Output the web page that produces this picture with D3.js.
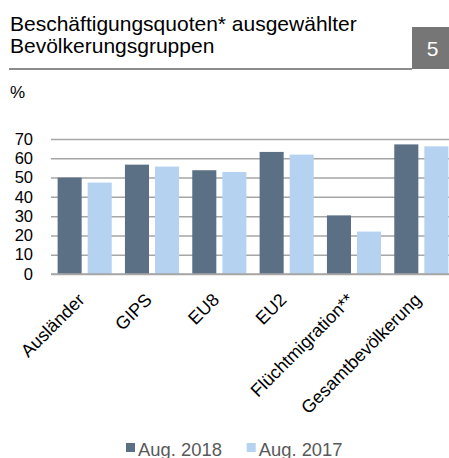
<!DOCTYPE html>
<head>
    <meta charset="utf-8">
    <title>Beschäftigungsquoten</title>
    <style>
        body { margin: 0; background: #fff; }
        text { font-family: Arial, "Liberation Sans", sans-serif; }
    </style>
</head>

<script src="https://d3js.org/d3.v7.min.js"></script>

<div id="my_dataviz"></div>

<script>

    // data
    var groups = ["Ausländer", "GIPS", "EU8", "EU2", "Flüchtmigration**", "Gesamtbevölkerung"];
    var series = ["Aug. 2018", "Aug. 2017"];
    var aug2018 = [50.0, 56.7, 53.8, 63.3, 30.4, 67.2];
    var aug2017 = [47.4, 55.7, 52.9, 61.9, 22.0, 66.2];
    var yTicks = [0, 10, 20, 30, 40, 50, 60, 70];

    var colors = ["#5b6f85", "#b5d2f0"];

    var W = 449, H = 458;
    var margin = {top: 139, left: 51},
        plotBottom = 274,
        plotRight = 455;

    var svg = d3.select("#my_dataviz")
      .append("svg")
      .attr("width", W)
      .attr("height", H);

    // title block
    svg.append("text")
        .attr("x", 10).attr("y", 31)
        .style("font-size", "21px")
        .text("Beschäftigungsquoten* ausgewählter");
    svg.append("text")
        .attr("x", 10).attr("y", 53)
        .style("font-size", "21px")
        .text("Bevölkerungsgruppen");

    svg.append("line")
        .attr("x1", 9).attr("x2", 412)
        .attr("y1", 69).attr("y2", 69)
        .attr("stroke", "#8c8c8c")
        .attr("stroke-width", 2);

    svg.append("rect")
        .attr("x", 412).attr("y", 27)
        .attr("width", 37).attr("height", 42)
        .style("fill", "#767676");
    svg.append("text")
        .attr("x", 432.5).attr("y", 56)
        .attr("text-anchor", "middle")
        .style("font-size", "21px")
        .style("fill", "#fff")
        .text("5");

    svg.append("text")
        .attr("x", 10).attr("y", 98)
        .style("font-size", "17px")
        .text("%");

    // scales
    var x0 = d3.scaleBand()
      .domain(groups)
      .range([margin.left, plotRight])
      .padding(0);

    var x1 = d3.scaleBand()
      .domain(series)
      .range([0, x0.bandwidth()])
      .paddingInner(0.2)
      .paddingOuter(0.22);

    var y = d3.scaleLinear()
      .domain([0, 70])
      .range([plotBottom, margin.top]);

    // y axis with gridlines
    var yAxis = svg.append("g")
      .attr("transform", "translate(" + margin.left + ",0)")
      .call(d3.axisLeft(y).tickValues(yTicks).tickSize(-(plotRight - margin.left)).tickPadding(18));
    yAxis.select(".domain").remove();
    yAxis.selectAll(".tick line")
      .attr("stroke", "#a6a6a6")
      .attr("stroke-width", 1.5);
    yAxis.selectAll(".tick text")
      .style("font-size", "16.5px")
      .style("font-family", "Arial, 'Liberation Sans', sans-serif")
      .attr("fill", "#000");

    // bars
    var rows = groups.map(function (g, i) {
      return {group: g, values: [aug2018[i], aug2017[i]]};
    });

    svg.append("g")
      .selectAll("g")
      .data(rows)
      .enter()
      .append("g")
        .attr("transform", function (d) { return "translate(" + x0(d.group) + ",0)"; })
      .selectAll("rect")
      .data(function (d) { return d.values.map(function (v, j) { return {key: series[j], value: v, j: j}; }); })
      .enter()
      .append("rect")
        .attr("x", function (d) { return x1(d.key); })
        .attr("y", function (d) { return y(d.value); })
        .attr("width", x1.bandwidth())
        .attr("height", function (d) { return y(0) - y(d.value); })
        .style("fill", function (d) { return colors[d.j]; });

    // zero line on top
    svg.append("line")
      .attr("x1", margin.left).attr("x2", plotRight)
      .attr("y1", y(0)).attr("y2", y(0))
      .attr("stroke", "#a6a6a6")
      .attr("stroke-width", 1.5);

    // rotated category labels
    svg.append("g")
      .selectAll("text")
      .data(groups)
      .enter()
      .append("text")
        .attr("text-anchor", "end")
        .attr("transform", function (d) {
          return "translate(" + (x0(d) + x0.bandwidth() / 2 + 1) + ",301) rotate(-45)";
        })
        .style("font-size", "18px")
        .text(function (d) { return d; });

    // legend
    var legend = svg.append("g")
      .selectAll("g")
      .data(series)
      .enter()
      .append("g")
        .attr("transform", function (d, i) { return "translate(" + (126 + i * 120.7) + ",443)"; });
    legend.append("rect")
      .attr("width", 9).attr("height", 9)
      .style("fill", function (d, i) { return colors[i]; });
    legend.append("text")
      .attr("x", 12).attr("y", 12.5)
      .style("font-size", "18.4px")
      .style("fill", "#595959")
      .text(function (d) { return d; });

</script>
